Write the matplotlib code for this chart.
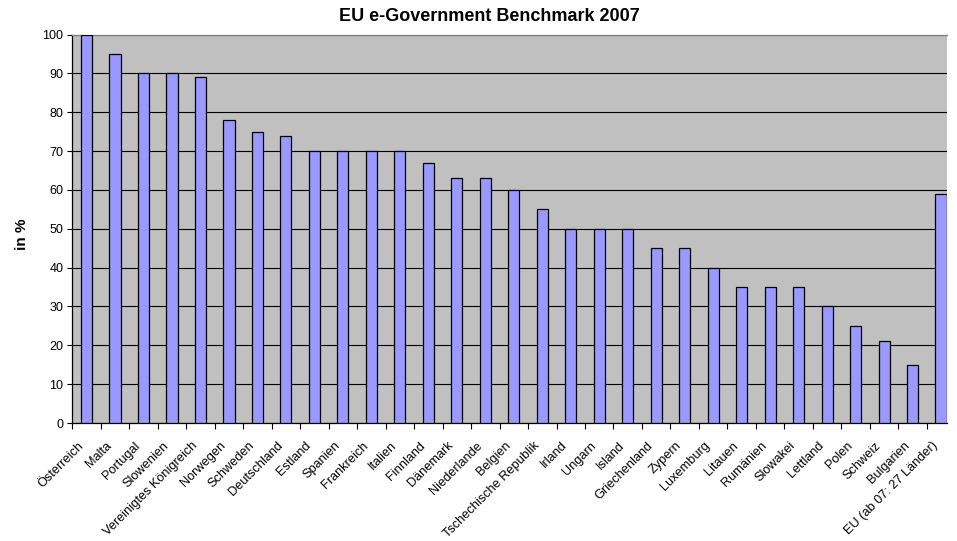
import matplotlib
matplotlib.use("Agg")
import matplotlib.pyplot as plt
import numpy as np
from matplotlib.ticker import FixedLocator, MultipleLocator
from matplotlib.transforms import ScaledTranslation

countries = [
    "Österreich", "Malta", "Portugal", "Slowenien", "Vereinigtes Königreich",
    "Norwegen", "Schweden", "Deutschland", "Estland", "Spanien", "Frankreich",
    "Italien", "Finnland", "Dänemark", "Niederlande", "Belgien",
    "Tschechische Republik", "Irland", "Ungarn", "Island", "Griechenland",
    "Zypern", "Luxemburg", "Litauen", "Rumänien", "Slowakei", "Lettland",
    "Polen", "Schweiz", "Bulgarien", "EU (ab 07: 27 Länder)",
]
values = [100, 95, 90, 90, 89, 78, 75, 74, 70, 70, 70, 70, 67, 63, 63, 60,
          55, 50, 50, 50, 45, 45, 40, 35, 35, 35, 30, 25, 21, 15, 59]
title = "EU e-Government Benchmark 2007"
ylabel = "in %"

plt.rcParams["font.family"] = ["Liberation Sans", "DejaVu Sans"]

W, H = 957, 541
fig = plt.figure(figsize=(W / 100, H / 100), dpi=100)
left, right, top, bottom = 72.3, 947.3, 34.5, 423.0
ax = fig.add_axes([left / W, 1 - bottom / H, (right - left) / W, (bottom - top) / H])

n = len(countries)
x = np.arange(n)
ax.set_facecolor("#C0C0C0")
ax.bar(x, values, width=0.39, color="#9999FF", edgecolor="black",
       linewidth=0.9, zorder=3)

# the plot area is cut off slightly before the end of the last category slot
ax.set_xlim(-0.5, n - 0.5 - 0.28)
ax.set_ylim(0, 100)
ax.yaxis.set_major_locator(MultipleLocator(10))
ax.grid(axis="y", color="black", linewidth=0.8, zorder=1)

ax.set_xticks(x)
ax.set_xticklabels(countries, rotation=45, ha="right", va="center",
                   rotation_mode="anchor", fontsize=9.2)
ax.xaxis.set_minor_locator(FixedLocator(np.arange(-0.5, n - 0.5, 1)))
ax.tick_params(axis="x", which="major", length=0, pad=15)
ax.tick_params(axis="x", which="minor", length=4, width=0.8, direction="out")
ax.tick_params(axis="y", length=3.5, width=0.8, labelsize=9, pad=3)

for side in ("left", "bottom"):
    ax.spines[side].set_color("black")
    ax.spines[side].set_linewidth(0.9)
ax.spines["top"].set_color("#808080")
ax.spines["top"].set_linewidth(0.9)
ax.spines["right"].set_visible(False)

ax.set_ylabel(ylabel, fontsize=11, fontweight="bold")
ax.yaxis.set_label_coords(-0.050, 0.486)
fig.text(489 / W, 1 - 16.5 / H, title, ha="center", va="center",
         fontsize=13, fontweight="bold")

# nudge the slanted category names a little to the left of each bar
fig.canvas.draw()
shift = ScaledTranslation(-0.05, 0.0, fig.dpi_scale_trans)
for lbl in ax.get_xticklabels():
    lbl.set_transform(lbl.get_transform() + shift)

fig.savefig("out.png", dpi=100, facecolor="white")
